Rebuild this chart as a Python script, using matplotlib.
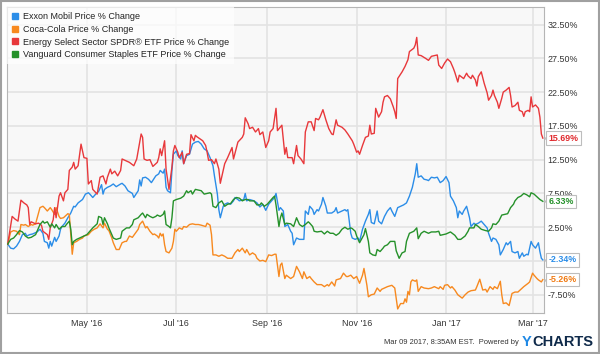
import matplotlib
matplotlib.use("Agg")
import matplotlib.pyplot as plt
import matplotlib.dates as mdates
import matplotlib.transforms as mtransforms
from matplotlib.lines import Line2D
from matplotlib.patches import Rectangle
import pandas as pd

plt.rcParams['font.family'] = ['Liberation Sans', 'DejaVu Sans']

# Data: (days since 2016-03-08, % change)
start = pd.Timestamp('2016-03-08')

xom_days = [0, 2, 4, 6, 8, 10, 12, 13, 15, 17, 20, 22, 24, 25, 27, 28, 29, 30, 32, 33, 35, 36, 37, 39, 41, 43,
            45, 46, 48, 51, 53, 55, 56, 58, 60, 62, 64, 65, 66, 68, 70, 72, 74, 77, 78, 80, 82, 85, 86, 89,
            90, 91, 92, 94, 96, 98, 101, 103, 104, 106, 107, 108, 109, 111, 112, 113, 115, 116, 118, 119, 120,
            122, 124, 126, 128, 130, 132, 134, 136, 138, 140, 141, 143, 144, 145, 147, 148, 150, 152, 154,
            155, 157, 158, 161, 162, 163, 165, 168, 170, 172, 174, 176, 178, 180, 182, 183, 185, 186, 188,
            189, 191, 193, 194, 195, 197, 199, 202, 203, 205, 206, 208, 209, 211, 212, 214, 215, 217, 218,
            221, 223, 224, 225, 228, 230, 231, 232, 234, 235, 237, 239, 240, 242, 244, 246, 247, 248, 250,
            252, 253, 255, 257, 259, 261, 262, 264, 266, 268, 270, 272, 274, 276, 278, 279, 280, 282, 284,
            286, 287, 289, 291, 293, 295, 297, 299, 301, 302, 304, 306, 307, 308, 310, 311, 313, 315, 316,
            318, 319, 321, 323, 325, 327, 328, 330, 331, 333, 335, 336, 338, 340, 341, 343, 344, 346, 348,
            349, 351, 352, 354, 355, 357, 358, 360, 362, 363, 364, 365]
xom_vals = [0.0, -0.6, -0.7, -0.3, 0.4, 1.4, 1.6, 1.2, 1.4, 1.5, 1.8, 2.2, 1.6, 0.4, 0.2, -0.6, 0.4, -0.3,
            1.0, 0.4, 1.2, 2.2, 2.6, 3.1, 3.9, 4.6, 5.6, 5.5, 6.1, 6.6, 7.4, 7.6, 7.4, 6.9, 7.4, 7.8, 8.8,
            7.4, 8.1, 8.4, 8.6, 8.9, 8.5, 8.9, 9.0, 8.6, 7.9, 7.5, 6.9, 7.9, 9.5, 8.6, 9.8, 9.9, 9.6, 9.1,
            10.1, 10.4, 10.9, 10.5, 11.1, 8.4, 7.9, 7.6, 10.9, 13.3, 13.8, 13.1, 12.6, 13.8, 11.9, 13.1,
            13.3, 14.8, 15.1, 15.2, 14.8, 14.1, 13.8, 12.8, 11.6, 10.1, 7.4, 5.1, 3.9, 5.6, 5.9, 6.1, 5.9,
            6.4, 6.9, 6.6, 6.4, 6.6, 7.5, 6.4, 6.6, 6.4, 6.1, 5.5, 5.9, 5.0, 5.9, 6.4, 6.9, 7.5, 5.0, 5.4,
            4.9, 2.6, 2.9, 1.9, 1.6, -0.1, 0.9, 0.7, 0.7, 4.9, 4.4, 5.6, 5.1, 4.4, 5.1, 4.9, 5.9, 6.9, 5.6,
            4.6, 4.6, 4.9, 5.4, 4.6, 4.9, 5.1, 4.9, 5.1, 1.6, 0.9, 0.7, 0.9, 0.4, 2.2, 3.4, 4.4, 5.1, 3.2,
            3.0, 4.9, 3.4, 3.0, 4.1, 4.9, 5.4, 4.9, 4.1, 5.4, 5.6, 5.8, 6.1, 7.1, 8.4, 10.4, 11.9, 9.9, 10.1,
            9.6, 9.5, 9.4, 9.9, 9.8, 9.9, 9.1, 9.4, 10.0, 9.1, 7.1, 6.4, 5.4, 3.9, 4.9, 4.4, 4.9, 5.6, 3.9,
            2.6, 3.1, 2.9, 3.1, 3.4, 2.9, 2.4, 1.6, 0.4, 0.9, 0.7, -0.1, -1.6, -0.8, 0.2, -0.1, 0.4, -1.1,
            -1.3, -1.1, -2.1, -1.3, -1.8, -1.5, -1.6, 0.4, -0.1, -0.6, 0.2, -1.1, -2.1, -2.34]

ko_days = [0, 2, 4, 6, 8, 9, 11, 12, 14, 16, 17, 19, 21, 22, 24, 25, 27, 29, 30, 32, 33, 35, 36, 38, 40, 41,
           42, 43, 44, 45, 47, 49, 51, 52, 55, 57, 59, 61, 63, 65, 66, 68, 69, 71, 72, 74, 76, 78, 80, 81,
           83, 85, 87, 89, 90, 92, 94, 95, 97, 99, 100, 102, 103, 104, 105, 106, 107, 108, 110, 112, 113,
           114, 115, 117, 119, 120, 122, 124, 126, 128, 130, 132, 135, 136, 138, 139, 140, 142, 144, 146,
           148, 150, 153, 155, 157, 158, 160, 162, 163, 165, 167, 169, 170, 172, 174, 176, 177, 178, 180,
           182, 183, 185, 186, 187, 189, 190, 193, 195, 197, 199, 201, 202, 204, 206, 207, 209, 211, 214,
           216, 218, 219, 221, 223, 224, 227, 229, 231, 232, 234, 236, 238, 240, 242, 243, 245, 246, 248,
           250, 252, 254, 255, 257, 259, 262, 264, 265, 266, 268, 270, 271, 272, 273, 274, 275, 276, 278,
           279, 280, 282, 284, 287, 289, 291, 294, 295, 297, 298, 300, 302, 303, 305, 307, 310, 312, 314,
           316, 319, 320, 322, 324, 326, 327, 329, 331, 332, 334, 336, 337, 338, 340, 342, 344, 346, 348,
           350, 352, 355, 356, 358, 359, 361, 362, 364, 365]
ko_vals = [0.0, 1.8, 2.0, 1.9, 1.4, 2.9, 2.8, 2.9, 2.6, 2.9, 2.8, 3.0, 4.6, 5.4, 5.6, 5.4, 4.9, 5.4, 5.1, 4.4,
           5.4, 4.1, 3.8, 3.9, 4.3, 4.5, 4.4, 1.4, -1.5, 0.2, 0.4, 0.7, 0.9, 1.2, 1.4, 1.9, 2.2, 2.4, 3.0,
           2.4, 3.1, 2.2, 2.0, 0.9, 0.2, -0.8, -0.8, 0.2, 0.4, 0.4, 1.2, 1.0, 1.6, 2.2, 2.9, 3.4, 2.4, 2.6,
           1.9, 1.4, 1.5, 1.2, 0.9, 1.6, 1.2, 1.5, -0.1, -1.1, -1.3, -0.6, 0.4, 2.2, 1.9, 2.4, 2.2, 2.6,
           2.5, 2.9, 3.0, 2.9, 2.9, 2.8, 2.6, 3.1, 2.8, 1.4, -1.6, -1.6, -1.8, -1.6, -1.8, -2.1, -2.1, -1.3,
           -0.8, -1.1, -0.6, -1.3, -0.8, -1.6, -1.3, -1.6, -2.1, -2.5, -2.4, -2.6, -2.1, -1.6, -1.7, -1.5,
           -1.5, -4.8, -3.1, -2.8, -5.1, -4.6, -5.1, -4.8, -3.3, -4.1, -5.1, -4.1, -5.1, -4.8, -5.1, -5.6,
           -6.0, -6.0, -6.3, -6.0, -6.2, -5.6, -6.2, -5.3, -5.1, -4.3, -4.8, -4.8, -4.6, -5.1, -4.8, -5.8,
           -4.6, -3.6, -6.1, -7.8, -7.5, -7.4, -6.5, -7.0, -6.7, -6.5, -6.3, -6.1, -6.5, -8.1, -9.6, -8.8,
           -8.8, -8.1, -8.6, -7.0, -7.5, -5.6, -5.3, -5.5, -5.3, -7.0, -6.3, -6.5, -6.6, -6.5, -6.3, -6.6,
           -6.3, -6.7, -6.1, -6.0, -6.5, -6.3, -6.8, -7.5, -8.0, -7.5, -7.1, -6.9, -6.8, -6.3, -5.2, -6.8,
           -6.7, -7.1, -6.3, -6.7, -6.3, -6.6, -5.5, -7.5, -8.8, -8.7, -9.1, -7.3, -7.1, -7.1, -6.7, -6.3,
           -5.8, -5.6, -4.3, -4.6, -5.1, -5.3, -5.6, -5.26]

xle_days = [0, 3, 5, 7, 9, 11, 13, 14, 15, 16, 19, 21, 23, 24, 27, 28, 29, 31, 32, 33, 35, 36, 38, 39, 41,
            42, 44, 45, 46, 48, 50, 52, 54, 55, 57, 58, 61, 63, 65, 67, 68, 70, 71, 73, 75, 77, 78, 80, 83,
            86, 88, 91, 92, 93, 95, 97, 99, 102, 103, 104, 105, 107, 108, 110, 112, 113, 114, 116, 117, 119,
            120, 122, 124, 125, 127, 128, 129, 131, 133, 135, 136, 137, 139, 141, 142, 144, 145, 147, 148,
            150, 152, 153, 154, 156, 157, 160, 161, 162, 164, 165, 167, 169, 171, 172, 174, 176, 178, 179,
            181, 183, 184, 187, 189, 190, 191, 194, 195, 197, 198, 200, 202, 203, 205, 207, 209, 210, 212,
            213, 215, 217, 219, 221, 222, 224, 225, 228, 230, 232, 235, 236, 238, 239, 240, 242, 244, 246,
            247, 248, 250, 251, 253, 255, 256, 257, 259, 261, 263, 264, 265, 266, 269, 271, 273, 274, 277,
            278, 279, 280, 282, 285, 287, 289, 291, 293, 294, 296, 298, 300, 302, 304, 305, 307, 308, 311,
            313, 314, 316, 317, 319, 320, 321, 323, 325, 327, 328, 330, 331, 332, 334, 335, 337, 338, 340,
            342, 343, 344, 346, 348, 349, 351, 352, 353, 355, 356, 357, 358, 360, 362, 363, 364, 365]
xle_vals = [0.0, 4.1, 3.7, 3.4, 6.5, 6.1, 5.8, 5.4, 2.9, 3.3, 3.0, 3.1, 2.8, 1.9, 1.4, 0.7, 2.4, 3.6, 5.4,
            3.9, 7.1, 7.6, 6.4, 7.6, 8.1, 10.9, 11.4, 12.1, 11.1, 11.6, 14.8, 12.8, 12.7, 8.9, 9.4, 8.1,
            7.4, 9.9, 10.1, 8.9, 9.9, 11.1, 10.4, 10.8, 10.1, 10.9, 12.6, 12.4, 12.1, 11.6, 12.6, 16.3,
            15.8, 12.6, 12.4, 12.5, 11.5, 12.1, 12.8, 14.1, 13.1, 15.3, 11.1, 8.1, 11.4, 13.8, 14.6, 13.6,
            12.8, 13.6, 11.9, 13.3, 13.4, 16.2, 15.3, 16.1, 15.9, 15.6, 15.3, 14.6, 13.6, 12.4, 12.5, 11.9,
            12.6, 11.1, 9.0, 10.9, 11.9, 12.8, 13.8, 14.3, 12.6, 14.3, 15.1, 15.8, 16.3, 18.7, 17.8, 17.1,
            17.3, 16.6, 17.1, 16.2, 16.6, 14.3, 15.3, 16.6, 17.1, 20.1, 16.8, 17.6, 13.3, 14.3, 12.8, 12.8,
            11.9, 14.6, 13.1, 12.6, 11.9, 16.6, 18.1, 18.1, 16.8, 18.6, 18.4, 18.8, 19.9, 18.4, 17.1, 16.3,
            16.2, 18.4, 17.6, 17.3, 16.9, 16.3, 15.3, 14.8, 13.6, 13.8, 13.3, 14.6, 15.8, 16.0, 17.6, 16.3,
            16.4, 20.1, 18.8, 19.6, 21.0, 21.8, 22.0, 21.5, 20.3, 19.6, 18.6, 24.5, 25.5, 26.3, 27.3, 28.5,
            29.0, 29.5, 30.6, 28.0, 27.9, 27.5, 27.2, 27.8, 27.9, 28.0, 26.5, 26.0, 26.8, 27.4, 27.0, 26.0,
            25.4, 24.0, 25.0, 24.5, 25.3, 24.9, 24.5, 25.0, 24.3, 23.4, 24.8, 25.5, 23.8, 22.4, 21.3, 22.0,
            22.8, 22.0, 21.0, 20.1, 21.6, 22.5, 22.8, 23.2, 22.0, 20.3, 20.5, 21.0, 19.8, 19.6, 18.9, 19.6,
            19.8, 19.6, 21.8, 20.3, 20.6, 20.1, 18.8, 16.3, 15.69]

vdc_days = [0, 2, 4, 6, 8, 10, 12, 14, 16, 19, 21, 22, 24, 25, 27, 29, 30, 32, 33, 35, 37, 39, 40, 42, 43,
            44, 45, 47, 49, 52, 54, 56, 58, 61, 62, 64, 65, 66, 68, 69, 71, 72, 74, 77, 78, 81, 83, 85, 86,
            89, 91, 92, 94, 95, 97, 99, 101, 102, 104, 106, 107, 108, 110, 111, 112, 113, 115, 118, 120,
            122, 123, 125, 126, 128, 130, 132, 134, 136, 138, 139, 140, 142, 144, 146, 148, 150, 152, 154,
            156, 158, 160, 162, 164, 165, 168, 170, 172, 173, 175, 177, 179, 181, 182, 183, 185, 186, 187,
            189, 190, 193, 195, 197, 199, 201, 203, 205, 206, 208, 209, 211, 214, 216, 218, 220, 222, 224,
            226, 228, 230, 232, 234, 235, 237, 238, 240, 243, 244, 246, 247, 249, 251, 252, 254, 256, 257,
            259, 261, 262, 264, 265, 267, 269, 271, 272, 274, 277, 279, 280, 282, 284, 287, 289, 292, 294,
            295, 297, 299, 302, 305, 307, 309, 312, 314, 315, 318, 319, 321, 323, 326, 328, 330, 331, 333,
            335, 337, 339, 341, 343, 345, 346, 348, 350, 352, 354, 356, 357, 359, 361, 363, 365]
vdc_vals = [0.0, 0.7, 0.9, 1.4, 2.0, 1.8, 1.2, 0.9, 1.0, 1.4, 2.4, 2.9, 3.4, 3.1, 3.3, 2.5, 3.0, 2.4, 2.9,
            2.2, 2.6, 2.6, 2.9, 3.4, 2.2, -0.1, 0.4, 0.7, 0.9, 1.2, 1.4, 1.9, 2.4, 3.0, 4.1, 3.9, 2.9, 3.9,
            3.0, 2.4, 1.4, 0.9, 0.7, 0.9, 1.9, 2.4, 2.4, 2.9, 3.6, 3.9, 4.4, 4.6, 3.9, 4.4, 4.1, 3.9, 4.1,
            4.3, 4.1, 4.4, 4.9, 2.9, 2.6, 2.4, 3.9, 6.4, 6.6, 6.8, 7.1, 7.9, 7.6, 7.9, 7.4, 8.1, 8.0, 7.9,
            7.4, 7.5, 7.6, 7.4, 5.6, 5.4, 6.1, 6.4, 5.6, 5.9, 6.0, 6.6, 6.9, 6.8, 6.4, 6.6, 6.6, 6.4, 6.4,
            5.8, 5.8, 6.1, 5.6, 5.9, 6.4, 6.9, 7.1, 5.8, 2.6, 3.9, 4.6, 2.9, 3.1, 3.0, 2.6, 3.9, 2.9, 2.6,
            2.9, 3.3, 3.1, 2.6, 1.9, 1.8, 1.9, 1.5, 1.9, 1.6, 1.6, 1.3, 1.6, 2.2, 2.5, 2.2, 2.4, 2.3, 1.9,
            1.2, 0.2, 1.4, 2.3, 0.4, -1.3, -1.6, -1.7, -0.8, -1.1, -0.6, -0.3, -0.1, 0.4, 0.4, 0.4, -1.0,
            -2.1, -1.3, -1.1, 0.4, 1.6, 1.9, 2.4, 0.8, 1.6, 1.9, 1.6, 1.8, 1.8, 1.9, 1.3, 1.4, 1.5, 1.8,
            1.3, 0.7, 0.7, 1.2, 1.9, 2.4, 2.4, 2.9, 2.6, 2.2, 2.0, 1.9, 2.4, 3.0, 2.9, 3.4, 4.3, 4.4, 4.5,
            5.4, 5.9, 6.4, 6.9, 7.1, 7.5, 7.3, 7.0, 7.6, 7.4, 7.0, 6.6, 6.33]

series = [
    ("Exxon Mobil Price % Change", xom_days, xom_vals, "#2b8de8", "#2b8de8"),
    ("Coca-Cola Price % Change", ko_days, ko_vals, "#f7891f", "#f07b14"),
    ("Energy Select Sector SPDR\u00ae ETF Price % Change", xle_days, xle_vals, "#e8383b", "#e02a2e"),
    ("Vanguard Consumer Staples ETF Price % Change", vdc_days, vdc_vals, "#25912a", "#25912a"),
]

yticks = [-7.5, -2.5, 2.5, 7.5, 12.5, 17.5, 22.5, 27.5, 32.5]

fig = plt.figure(figsize=(6, 3.54), dpi=100, facecolor='white')
ax = fig.add_axes([7 / 600, 1 - 313 / 354, 537 / 600, 306 / 354])
ax.set_facecolor('#f8f8f8')

handles = []
for name, days, vals, col, tcol in series:
    dates = start + pd.to_timedelta(days, unit='D')
    ax.plot(dates, vals, color=col, linewidth=1.0, zorder=3)
    handles.append(Line2D([], [], marker='s', linestyle='none', markersize=4.2, color=col, label=name))

ax.set_ylim(-10.2, 35.1)
ax.set_xlim(start - pd.Timedelta(hours=12), start + pd.Timedelta(days=365.8))
ax.set_yticks(yticks)
ax.set_yticklabels([f"{t:.2f}%" for t in yticks])
ax.yaxis.tick_right()
ax.xaxis.set_major_locator(mdates.MonthLocator(bymonth=[1, 3, 5, 7, 9, 11]))
ax.xaxis.set_major_formatter(mdates.DateFormatter("%b '%y"))
ax.tick_params(axis='both', length=0, labelsize=6.4, colors='#333333')
ax.tick_params(axis='y', pad=2.5)
ax.tick_params(axis='x', pad=4)
ax.grid(True, color='#e3e3e3', linewidth=1.2)
ax.set_axisbelow(True)
for s in ax.spines.values():
    s.set_color('#b5b5b5')
    s.set_linewidth(0.8)

# end-value tags with a small pointer on the left
ptr = mtransforms.offset_copy(ax.get_yaxis_transform(), fig=fig, x=1.8, y=0, units='points')
for name, days, vals, col, tcol in series:
    ax.plot([1.0], [vals[-1]], marker='<', markersize=5, markerfacecolor='white',
            markeredgecolor='#bdbdbd', markeredgewidth=0.8, transform=ptr, clip_on=False, zorder=4)
    ax.annotate(f"{vals[-1]:.2f}%", xy=(1, vals[-1]), xycoords=('axes fraction', 'data'),
                xytext=(3.2, 0), textcoords='offset points', ha='left', va='center',
                fontsize=6.4, fontweight='bold', color=tcol, zorder=5,
                bbox=dict(boxstyle='square,pad=0.25', fc='white', ec='#bdbdbd', lw=0.8))

leg = ax.legend(handles=handles, loc='upper left', bbox_to_anchor=(0, 1), borderaxespad=0,
                fontsize=6.5, handlelength=0.7, handletextpad=0.5, labelspacing=0.42,
                borderpad=0.55, frameon=True, fancybox=False)
leg.get_frame().set_facecolor('white')
leg.get_frame().set_alpha(0.7)
leg.get_frame().set_edgecolor('none')
for t in leg.get_texts():
    t.set_color('#222222')

fig.text(519 / 600, 1 - 343 / 354, "Mar 09 2017, 8:35AM EST.  Powered by", ha='right', va='center',
         fontsize=5.4, color='#333333')
fig.text(522 / 600, 1 - 342 / 354, "Y", ha='left', va='center', fontsize=10.5,
         fontweight='bold', color='#1e88e5')
fig.text(532 / 600, 1 - 342 / 354, "CHARTS", ha='left', va='center', fontsize=10.5,
         fontweight='bold', color='#0f2a4a')

fig.patches.append(Rectangle((0.001, 0.002), 0.997, 0.995, transform=fig.transFigure,
                             fill=False, edgecolor='#a0a0a0', linewidth=1.5))

fig.savefig('out.png', dpi=100)
